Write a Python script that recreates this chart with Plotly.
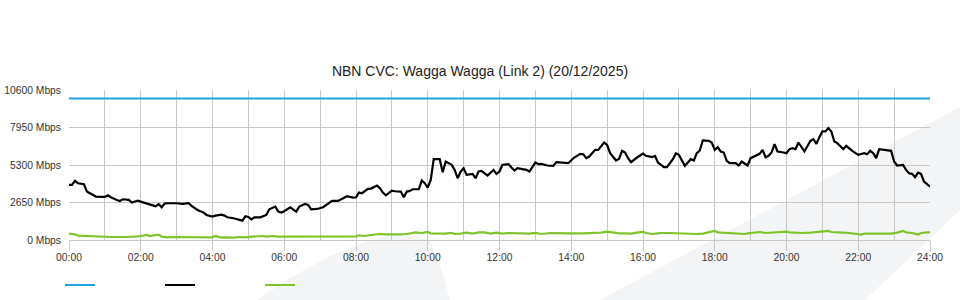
import plotly.graph_objects as go

# ---- data (minutes since 00:00, Mbps) ----
capacity_min = [0, 1440]
capacity_val = [10000, 10000]

black_min = [0, 5, 10, 15, 25, 30, 35, 45, 55, 60, 65, 70, 80, 85, 90, 100, 105, 115, 120, 130,
             135, 145, 150, 155, 160, 165, 180, 190, 200, 205, 215, 225, 230, 240, 245, 255, 260, 265,
             275, 280, 290, 295, 300, 305, 310, 320, 330, 335, 345, 350, 355, 360, 370, 380, 385, 395,
             400, 405, 410, 415, 425, 430, 440, 450, 455, 465, 475, 480, 485, 490, 500, 505, 515, 520,
             525, 530, 540, 545, 555, 560, 565, 570, 575, 585, 590, 595, 600, 605, 610, 615, 620, 625,
             630, 640, 645, 650, 655, 660, 665, 675, 680, 685, 690, 700, 710, 715, 720, 725, 735, 740,
             745, 750, 760, 765, 770, 780, 785, 790, 800, 810, 815, 825, 835, 845, 855, 860, 865, 870,
             880, 885, 890, 895, 900, 905, 915, 920, 925, 930, 935, 940, 950, 960, 965, 975, 980, 985,
             995, 1000, 1010, 1015, 1020, 1025, 1030, 1035, 1040, 1045, 1050, 1055, 1060, 1070, 1075,
             1080, 1085, 1090, 1095, 1100, 1105, 1115, 1120, 1125, 1130, 1135, 1140, 1150, 1155, 1160,
             1165, 1170, 1175, 1180, 1185, 1195, 1200, 1205, 1210, 1215, 1220, 1230, 1235, 1240, 1245,
             1250, 1255, 1260, 1265, 1270, 1275, 1280, 1285, 1290, 1295, 1300, 1310, 1320, 1325, 1330,
             1335, 1340, 1345, 1350, 1355, 1365, 1370, 1375, 1380, 1385, 1395, 1400, 1405, 1410, 1415,
             1420, 1425, 1430, 1440]
black_val = [3894, 3894, 4177, 4012, 3941, 3422, 3304, 3068, 3044, 3044, 3162, 3021, 2832, 2761, 2879,
             2832, 2643, 2785, 2714, 2572, 2478, 2384, 2525, 2313, 2572, 2596, 2596, 2549, 2596, 2407,
             2124, 1935, 1770, 1652, 1723, 1794, 1723, 1605, 1534, 1463, 1369, 1676, 1628, 1463, 1605,
             1605, 1770, 2171, 2360, 2006, 1935, 2030, 2313, 2006, 2360, 2549, 2478, 2171, 2171, 2195,
             2313, 2478, 2761, 2761, 2879, 3092, 2997, 3021, 3351, 3304, 3611, 3634, 3847, 3658, 3351,
             3162, 3493, 3446, 3422, 3021, 3422, 3469, 3587, 3587, 4201, 4012, 3705, 4248, 5711, 5735,
             5711, 4791, 5546, 5310, 4956, 4366, 4838, 5074, 4602, 4673, 4366, 4838, 4885, 4555, 4956,
             4673, 4838, 5310, 5357, 5121, 4909, 5074, 5003, 4956, 4838, 5475, 5357, 5381, 5263, 5239,
             5499, 5475, 5428, 5829, 6089, 6065, 5782, 5900, 6372, 6372, 6608, 6891, 6726, 6136, 5617,
             5735, 6301, 6183, 5782, 5499, 5829, 6112, 5947, 5853, 5947, 5475, 5145, 5145, 5711, 6136,
             6018, 5664, 5239, 5475, 5711, 5617, 6136, 6325, 7033, 7009, 6891, 6372, 6561, 6254, 6183,
             5593, 5428, 5428, 5263, 5546, 5428, 5263, 5782, 6018, 6089, 6372, 5853, 5947, 6183, 6773,
             6254, 6183, 6136, 6419, 6490, 6419, 6891, 6254, 6608, 7009, 7127, 6797, 7269, 7670, 7670,
             7906, 7670, 6962, 6844, 6655, 6419, 6655, 6301, 6018, 6089, 6136, 6065, 6301, 6136, 5782,
             6419, 6372, 6372, 6301, 5546, 5263, 5310, 4956, 4720, 4673, 4437, 4767, 4673, 4130, 3776]

green_min = [0, 10, 15, 25, 40, 55, 70, 95, 110, 115, 120, 130, 135, 140, 150, 155, 165, 175, 190, 205,
             225, 230, 240, 245, 255, 260, 275, 285, 295, 305, 315, 325, 330, 340, 350, 375, 400, 430,
             455, 480, 485, 495, 505, 520, 530, 540, 550, 565, 575, 580, 590, 600, 605, 620, 630, 640,
             645, 655, 665, 675, 685, 695, 705, 715, 725, 735, 745, 760, 770, 780, 790, 805, 815, 825,
             835, 860, 880, 890, 900, 910, 920, 930, 940, 950, 960, 965, 975, 985, 990, 1005, 1015, 1025,
             1035, 1050, 1060, 1070, 1080, 1085, 1100, 1110, 1120, 1130, 1135, 1150, 1155, 1165, 1175,
             1185, 1200, 1205, 1215, 1225, 1240, 1250, 1260, 1270, 1275, 1285, 1295, 1305, 1315, 1325,
             1330, 1345, 1355, 1365, 1375, 1385, 1395, 1400, 1410, 1420, 1425, 1435, 1440]
green_val = [448, 401, 307, 283, 236, 212, 212, 212, 212, 260, 283, 354, 283, 330, 378, 236, 189, 212,
             212, 212, 189, 165, 189, 283, 165, 189, 165, 212, 189, 236, 260, 283, 236, 283, 236, 236,
             236, 236, 236, 260, 330, 283, 354, 425, 401, 378, 401, 425, 496, 543, 496, 566, 472, 448,
             448, 496, 425, 448, 519, 448, 543, 543, 448, 519, 448, 496, 472, 425, 448, 496, 425, 496,
             472, 496, 472, 472, 472, 519, 590, 519, 472, 472, 448, 519, 566, 496, 425, 472, 496, 496,
             472, 448, 425, 425, 448, 519, 637, 543, 496, 472, 472, 425, 472, 543, 566, 496, 519, 543,
             590, 543, 496, 496, 519, 566, 637, 637, 566, 519, 519, 496, 425, 378, 448, 448, 448, 448,
             448, 519, 637, 543, 496, 378, 496, 543, 543]

x_tick_vals = [0, 120, 240, 360, 480, 600, 720, 840, 960, 1080, 1200, 1320, 1440]
x_tick_text = ["00:00", "02:00", "04:00", "06:00", "08:00", "10:00", "12:00",
               "14:00", "16:00", "18:00", "20:00", "22:00", "24:00"]
y_tick_vals = [0, 2650, 5300, 7950, 10600]
y_tick_text = ["0 Mbps", "2650 Mbps", "5300 Mbps", "7950 Mbps", "10600 Mbps"]

title_text = "NBN CVC: Wagga Wagga (Link 2) (20/12/2025)"

# ---- layout geometry (pixels) ----
W, H = 960, 300
ML, MR, MT, MB = 69, 30, 90, 60
PW, PH = W - ML - MR, H - MT - MB


def px(x, y):
    return (x - ML) / PW, (H - MB - y) / PH


def path(points):
    parts = []
    for i, (x, y) in enumerate(points):
        u, v = px(x, y)
        parts.append(("M" if i == 0 else "L") + f"{u:.4f},{v:.4f}")
    return " ".join(parts) + " Z"


swoosh_fill = "#f3f4f6"
band = [(600, 300), (960, 107), (960, 210), (865, 300)]
hump = [(257, 300), (290, 278), (330, 256), (370, 240), (405, 233), (430, 240), (440, 265), (450, 300)]

grid_col = "#c8c8c8"
font_family = "Liberation Sans, Arial, sans-serif"
tick_size = 10.3

fig = go.Figure()
fig.add_trace(go.Scatter(x=capacity_min, y=capacity_val, mode="lines", name="",
                         line=dict(color="#1ea1e0", width=2)))
fig.add_trace(go.Scatter(x=black_min, y=black_val, mode="lines", name="",
                         line=dict(color="#000000", width=2.2)))
fig.add_trace(go.Scatter(x=green_min, y=green_val, mode="lines", name="",
                         line=dict(color="#7fc42a", width=2.2)))

fig.update_layout(
    width=W, height=H,
    margin=dict(l=ML, r=MR, t=MT, b=MB, pad=0, autoexpand=False),
    paper_bgcolor="white",
    plot_bgcolor="rgba(0,0,0,0)",
    font=dict(family=font_family, size=tick_size, color="#333333"),
    title=dict(text=title_text, x=0.5, xref="container", xanchor="center",
               y=1 - 71 / H, yanchor="middle",
               font=dict(family=font_family, size=14, color="#222222")),
    showlegend=True,
    legend=dict(orientation="h", xref="container", yref="container",
                x=60 / W, xanchor="left", y=1 - 285 / H, yanchor="middle",
                entrywidth=55, entrywidthmode="pixels", font=dict(size=tick_size),
                bgcolor="rgba(0,0,0,0)", itemclick=False, itemdoubleclick=False),
    shapes=[
        dict(type="path", path=path(band), xref="paper", yref="paper",
             fillcolor=swoosh_fill, line=dict(width=0), layer="below"),
        dict(type="path", path=path(hump), xref="paper", yref="paper",
             fillcolor=swoosh_fill, line=dict(width=0), layer="below"),
    ],
)

fig.update_xaxes(
    range=[0, 1440], tickmode="array", tickvals=x_tick_vals, ticktext=x_tick_text,
    showgrid=True, gridcolor=grid_col, gridwidth=1,
    ticks="outside", ticklen=10, tickcolor=grid_col, tickwidth=1,
    showline=True, linecolor=grid_col, linewidth=1,
    zeroline=False, fixedrange=True, automargin=False,
    ticklabelstandoff=-2,
    minor=dict(dtick=60, tick0=0, showgrid=True, gridcolor=grid_col, gridwidth=1, ticks=""),
    tickfont=dict(family=font_family, size=tick_size, color="#333333"),
)
fig.update_yaxes(
    range=[0, 10600], tickmode="array", tickvals=y_tick_vals, ticktext=y_tick_text,
    showgrid=True, gridcolor=grid_col, gridwidth=1,
    ticks="", showline=False, zeroline=False, fixedrange=True, automargin=False,
    ticklabelstandoff=7,
    tickfont=dict(family=font_family, size=tick_size, color="#333333"),
)

fig.write_html("out.html", config=dict(displayModeBar=False))
